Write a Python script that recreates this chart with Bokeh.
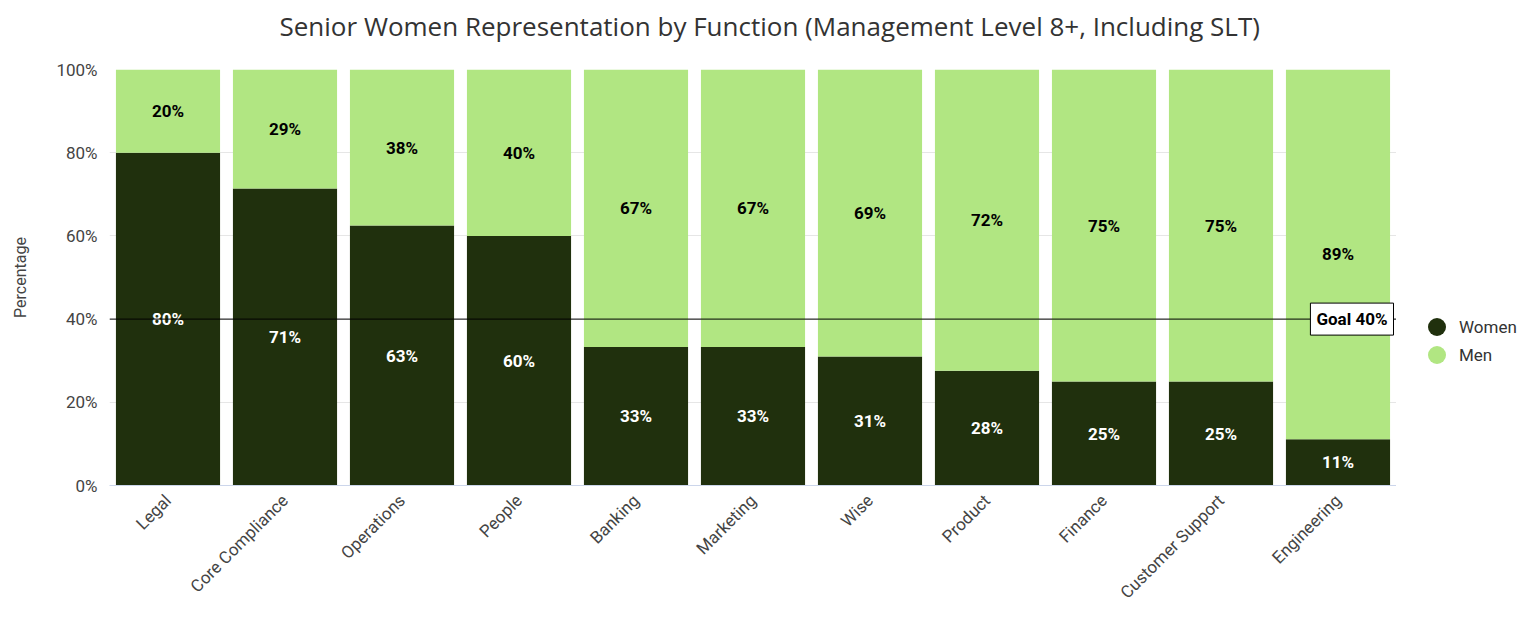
from bokeh.plotting import figure
from bokeh.layouts import row
from bokeh.models import (ColumnDataSource, FactorRange, Range1d, Span, Label, Legend, LegendItem,
                          FixedTicker, PrintfTickFormatter, Title)
from bokeh.core.properties import value
from bokeh.embed import file_html
from bokeh.resources import INLINE

functions = ["Legal", "Core Compliance", "Operations", "People", "Banking", "Marketing",
             "Wise", "Product", "Finance", "Customer Support", "Engineering"]
women = [80.0, 71.4, 62.5, 60.0, 33.3, 33.3, 31.0, 27.6, 25.0, 25.0, 11.1]
men = [round(100 - w, 1) for w in women]
goal = 40
y_ticks = [0, 20, 40, 60, 80, 100]

DARK = "#20300d"
LIGHT = "#b1e682"
FONT = "Roboto"

def pct(v):
    return f"{int(v + 0.5)}%"

src = ColumnDataSource(dict(
    functions=functions,
    women=women,
    men=men,
    women_mid=[w / 2 for w in women],
    men_mid=[w + m / 2 for w, m in zip(women, men)],
    women_lbl=[pct(w) for w in women],
    men_lbl=[pct(m) for m in men],
))

p = figure(x_range=FactorRange(*functions, range_padding=0), y_range=(0, 100),
           width=1396, height=612, output_backend="svg", toolbar_location=None,
           min_border_left=109, min_border_right=0, min_border_top=69, min_border_bottom=127)

p.title.text = "Senior Women Representation by Function (Management Level 8+, Including SLT)"
p.title.align = "left"
p.title.offset = 170
p.title.text_font = "Open Sans"
p.title.text_font_size = "26px"
p.title.text_font_style = "normal"
p.title.text_color = "#333333"
p.add_layout(Title(text=" ", text_font_size="8px"), "above")

p.outline_line_color = None
p.xgrid.grid_line_color = None
p.ygrid.grid_line_color = "#e6e6e6"
p.ygrid.ticker = FixedTicker(ticks=y_ticks)

p.yaxis.ticker = FixedTicker(ticks=y_ticks)
p.yaxis.formatter = PrintfTickFormatter(format="%d%%")
p.yaxis.axis_line_color = None
p.yaxis.major_tick_line_color = None
p.yaxis.minor_tick_line_color = None
p.yaxis.major_label_standoff = 6
p.yaxis.major_label_text_font = FONT
p.yaxis.major_label_text_font_size = "17px"
p.yaxis.major_label_text_color = "#444444"
p.yaxis.axis_label = "Percentage"
p.yaxis.axis_label_text_font = FONT
p.yaxis.axis_label_text_font_size = "16px"
p.yaxis.axis_label_text_font_style = "normal"
p.yaxis.axis_label_text_color = "#444444"
p.yaxis.axis_label_standoff = 23

p.xaxis.axis_line_color = "#ccd6eb"
p.xaxis.major_tick_line_color = None
p.xaxis.minor_tick_line_color = None
p.xaxis.major_label_orientation = 0.785398
p.xaxis.major_label_standoff = 6
p.xaxis.major_label_text_font = FONT
p.xaxis.major_label_text_font_size = "17px"
p.xaxis.major_label_text_color = "#444444"

p.vbar_stack(["women", "men"], x="functions", width=0.89, color=[DARK, LIGHT],
             line_color=None, source=src)

p.text(x="functions", y="women_mid", text="women_lbl", source=src, text_color="white",
       text_font=value(FONT), text_font_size="17px", text_font_style="bold",
       text_align="center", text_baseline="middle")
p.text(x="functions", y="men_mid", text="men_lbl", source=src, text_color="black",
       text_font=value(FONT), text_font_size="17px", text_font_style="bold",
       text_align="center", text_baseline="middle")

p.add_layout(Span(location=goal, dimension="width", line_color="black", line_width=1))
p.add_layout(Label(x=len(functions), y=goal, x_offset=-3, text=f"Goal {goal}%",
                   text_align="right", text_baseline="middle", text_font=FONT,
                   text_font_size="17px", text_font_style="bold", text_color="black",
                   background_fill_color="white", border_line_color="black",
                   border_line_width=1, padding=6))

# legend panel: a small companion figure whose proxy markers fall outside its range
lg = figure(x_range=FactorRange(*functions), y_range=Range1d(-2, -1), width=124, height=612,
            output_backend="svg", toolbar_location=None, x_axis_location=None,
            y_axis_location=None, min_border=0)
lg.outline_line_color = None
lg.grid.visible = False
r_w = lg.scatter(x="functions", y="women_mid", source=src, marker="circle", size=18,
                 color=DARK, line_color=None)
r_m = lg.scatter(x="functions", y="men_mid", source=src, marker="circle", size=18,
                 color=LIGHT, line_color=None)

for label, rend, ypos in (("Women", r_w, 136), ("Men", r_m, 108)):
    lg.add_layout(Legend(items=[LegendItem(label=label, renderers=[rend])],
                         location=(18, ypos), border_line_color=None, background_fill_alpha=0,
                         label_text_font=FONT, label_text_font_size="17px",
                         label_text_color="#333333", glyph_width=45, glyph_height=45,
                         label_height=20, spacing=0, padding=0, margin=0, label_standoff=0))

open("out.html", "w").write(file_html(row(p, lg), INLINE))
